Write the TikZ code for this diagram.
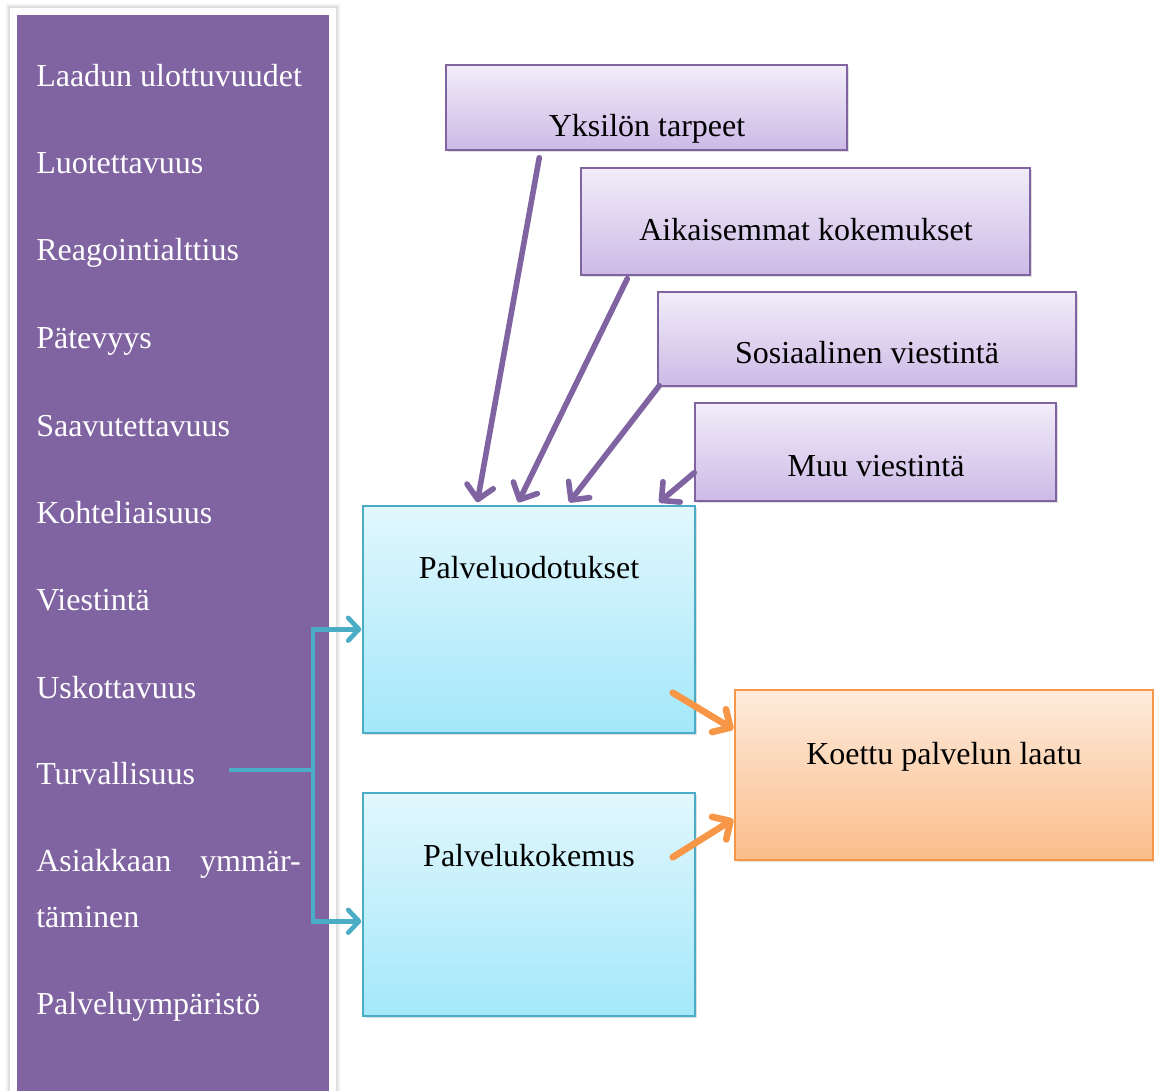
\documentclass[tikz,border=0pt]{standalone}
\usepackage{fontspec}
\setmainfont{Liberation Serif}
\usetikzlibrary{arrows.meta,calc,fit,shadows}
\definecolor{vio}{HTML}{8064A2}
\definecolor{vtop}{RGB}{242,237,249}
\definecolor{vbot}{RGB}{204,186,230}
\definecolor{tealc}{HTML}{4BACC6}
\definecolor{ttop}{RGB}{226,247,253}
\definecolor{tbot}{RGB}{163,232,250}
\definecolor{orc}{HTML}{F79646}
\definecolor{otop}{RGB}{253,235,220}
\definecolor{obot}{RGB}{251,189,138}
\begin{document}
\begin{tikzpicture}[x=0.75pt,y=-0.75pt,
  box/.style={draw, line width=1.1pt, inner sep=0pt,
    drop shadow={shadow xshift=1.5pt,shadow yshift=-1.5pt,opacity=0.25}},
  vbox/.style={box, draw=vio, top color=vtop, bottom color=vbot},
  tbox/.style={box, draw=tealc, top color=ttop, bottom color=tbot},
  obox/.style={box, draw=orc, top color=otop, bottom color=obot},
  lbl/.style={font=\fontsize{24}{28}\selectfont, anchor=base, inner sep=0pt},
  item/.style={font=\fontsize{24}{28}\selectfont, text=white, anchor=base west, inner sep=0pt},
  varr/.style={draw=vio, line width=4.2pt, line cap=round,
    -{Straight Barb[length=10pt,width=20pt,line cap=round,line join=round]}},
  tarr/.style={draw=tealc, line width=3.5pt,
    -{Straight Barb[length=8pt,width=17pt,line cap=round,line join=round]}},
  oarr/.style={draw=orc, line width=5pt, line cap=round,
    -{Straight Barb[length=10pt,width=20pt,line cap=round,line join=round]}},
]
\useasboundingbox (0,0) rectangle (1154,1091);
% left panel
\fill[gray!12] (6,4) rectangle (340,1091);
\fill[gray!25] (8,6) rectangle (338,1091);
\fill[white] (10,8) rectangle (336,1091);
\fill[vio] (17,15) rectangle (329,1091);
\node[item] (i1) at (36,87) {Laadun ulottuvuudet};
\node[item] (i2) at (36,174) {Luotettavuus};
\node[item] (i3) at (36,261) {Reagointialttius};
\node[item] (i4) at (36,349) {Pätevyys};
\node[item] (i5) at (36,436) {Saavutettavuus};
\node[item] (i6) at (36,523) {Kohteliaisuus};
\node[item] (i7) at (36,610) {Viestintä};
\node[item] (i8) at (36,698) {Uskottavuus};
\node[item] (i9) at (36,784) {Turvallisuus};
\node[item] (i10a) at (36,871) {Asiakkaan};
\node[item, anchor=base east] (i10b) at (301,871) {ymmär-};
\node[item] (i10c) at (36,927) {täminen};
\node[item] (i11) at (36,1014) {Palveluympäristö};
% purple boxes
\node[vbox, fit={(446,65) (847,150)}] (yk) {};
\node[lbl] (ykt) at (647,137) {Yksilön tarpeet};
\node[vbox, fit={(581,168) (1030,275)}] (ak) {};
\node[lbl] (akt) at (806,241) {Aikaisemmat kokemukset};
\node[vbox, fit={(658,292) (1076,386)}] (so) {};
\node[lbl] (sot) at (867,364) {Sosiaalinen viestintä};
\node[vbox, fit={(695,403) (1056,501)}] (mu) {};
\node[lbl] (mut) at (876,476) {Muu viestintä};
% teal boxes
\node[tbox, fit={(363,506) (695,733)}] (po) {};
\node[lbl] (pot) at (529,578) {Palveluodotukset};
\node[tbox, fit={(363,793) (695,1016)}] (pk) {};
\node[lbl] (pkt) at (529,866) {Palvelukokemus};
% orange box
\node[obox, fit={(735,690) (1153,860)}] (kl) {};
\node[lbl] (klt) at (944,764) {Koettu palvelun laatu};
% purple arrows
\draw[varr] ($(yk.south west)+(94,7)$) -- ($(po.north west)+(115,-3)$);
\draw[varr] ($(ak.south west)+(47,3)$) -- ($(po.north west)+(156,-3)$);
\draw[varr] ($(so.south west)+(2,-1)$) -- ($(po.north west)+(207,-3)$);
\draw[varr] ($(mu.south west)+(0,-29)$) -- ($(po.north west)+(297,-3)$);
% teal connector
\coordinate (ts) at (229,770);
\coordinate (tj) at (313,770);
\draw[tealc, line width=3.5pt] (ts) -- (tj);
\draw[tarr] (tj) |- ($(po.north west)+(-1,124)$);
\draw[tarr] (tj) |- ($(pk.north west)+(-1,129)$);
% orange arrows
\draw[oarr] ($(po.south east)+(-23,-41)$) -- ($(kl.north west)+(-1,40)$);
\draw[oarr] ($(pk.north east)+(-23,65)$) -- ($(kl.north west)+(-1,130)$);
\end{tikzpicture}
\end{document}
